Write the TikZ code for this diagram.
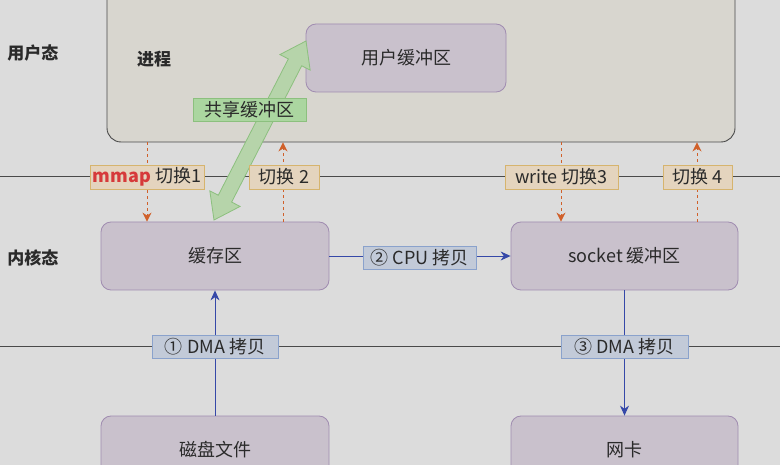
\documentclass[tikz,border=0pt]{standalone}
\usepackage{fontspec}
\setmainfont{Noto Sans CJK SC}
\usetikzlibrary{arrows.meta}
\definecolor{bg}{HTML}{DCDCDC}
\definecolor{procfill}{HTML}{D8D6CF}
\definecolor{procborder}{HTML}{4A4A4A}
\definecolor{boxfill}{HTML}{C9C1CC}
\definecolor{boxborder}{HTML}{A08CB0}
\definecolor{ofill}{HTML}{E4D4BE}
\definecolor{oborder}{HTML}{D6B46E}
\definecolor{bfill}{HTML}{C2CAD8}
\definecolor{bborder}{HTML}{8AA2CC}
\definecolor{gfill}{HTML}{ABD6A0}
\definecolor{gborder}{HTML}{8CC07E}
\definecolor{garrow}{HTML}{B6D4AA}
\definecolor{orng}{HTML}{D0602A}
\definecolor{blu}{HTML}{3548A8}
\definecolor{txt}{HTML}{2A2A2A}
\definecolor{mred}{HTML}{D63A3A}
\begin{document}
\begin{tikzpicture}[x=1pt,y=-1pt,
  font=\fontsize{18}{21}\selectfont,
  box/.style={draw=boxborder, fill=boxfill, rounded corners=10pt, line width=0.8pt,
              minimum width=228pt, minimum height=68pt, text=txt},
  lab/.style={inner sep=0pt, minimum height=24pt, line width=0.8pt, text=txt},
  olab/.style={lab, fill=ofill, draw=oborder},
  blab/.style={lab, fill=bfill, draw=bborder},
  glab/.style={lab, fill=gfill, draw=gborder},
  dasharr/.style={draw=orng, line width=0.9pt, dash pattern=on 3pt off 3pt,
                  -{Stealth[length=9pt,width=9pt]}},
  bluearr/.style={draw=blu, line width=0.9pt, -{Stealth[length=10pt,width=9pt]}},
  sepline/.style={draw=procborder, line width=1pt},
  side/.style={text=txt, font=\fontsize{17}{20}\selectfont\bfseries}
]
\useasboundingbox (0,0) rectangle (780,465);
\fill[bg] (0,0) rectangle (780,465);
\begin{scope}
\clip (0,0) rectangle (780,465);

% separator lines
\coordinate (l1a) at (0,177);
\coordinate (l1b) at (780,177);
\coordinate (l2a) at (0,347);
\coordinate (l2b) at (780,347);
\draw[sepline] (l1a) -- (l1b);
\draw[sepline] (l2a) -- (l2b);

% process box
\node[draw=procborder, fill=procfill, rounded corners=14pt, line width=0.9pt,
      minimum width=628pt, minimum height=172pt] (proc) at (421,56) {};
\node[side] (jc) at (154,59) {进程};

% side labels
\node[side] (ut) at (33,53) {用户态};
\node[side] (kt) at (33,258) {内核态};

% boxes
\node[box, minimum width=200pt] (ubuf) at (406,58) {用户缓冲区};
\node[box] (cache) at (215,256) {缓存区};
\node[box, minimum width=227pt] (sock) at (624.5,256) {socket 缓冲区};
\node[box] (disk) at (215,450) {磁盘文件};
\node[box, minimum width=227pt] (nic) at (624.5,450) {网卡};

% label positions (for arrows)
\coordinate (x1) at (147,177);
\coordinate (x2) at (283,177);
\coordinate (x3) at (561,177);
\coordinate (x4) at (697,177);

% dashed switch arrows
\draw[dasharr] (proc.south -| x1) -- (cache.north -| x1);
\draw[dasharr] (cache.north -| x2) -- (proc.south -| x2);
\draw[dasharr] (proc.south -| x3) -- (sock.north -| x3);
\draw[dasharr] (sock.north -| x4) -- (proc.south -| x4);

% blue copy arrows
\draw[bluearr] (cache.east) -- (sock.west);
\draw[bluearr] (disk.north) -- (cache.south);
\draw[bluearr] (sock.south) -- (nic.north);

% green shared-buffer double arrow
\draw[draw=gborder, fill=garrow, line width=0.8pt, line join=miter]
  (214,220) -- (240.09,206.43) -- (231.64,202.09) -- (301.70,65.77)
  -- (310.15,70.11) -- (306,41) -- (279.91,54.57) -- (288.36,58.91)
  -- (218.30,195.23) -- (209.85,190.89) -- cycle;

% labels
\node[olab, minimum width=114pt] (s1) at (147,177) {{\color{mred}\bfseries mmap}\ 切换1};
\node[olab, minimum width=70pt] (s2) at (284,177) {切换 2};
\node[olab, minimum width=113pt] (s3) at (561.5,177) {write 切换3};
\node[olab, minimum width=69pt] (s4) at (697.5,177) {切换 4};
\node[blab, minimum width=126pt, minimum height=23pt] (d1) at (215,347) {① DMA 拷贝};
\node[blab, minimum width=113pt, minimum height=23pt] (c2) at (419.5,258) {② CPU 拷贝};
\node[blab, minimum width=127pt, minimum height=23pt] (d3) at (624.5,347) {③ DMA 拷贝};
\node[glab, minimum width=113pt, minimum height=23pt] (share) at (249.5,109.5) {共享缓冲区};
\end{scope}
\end{tikzpicture}
\end{document}
